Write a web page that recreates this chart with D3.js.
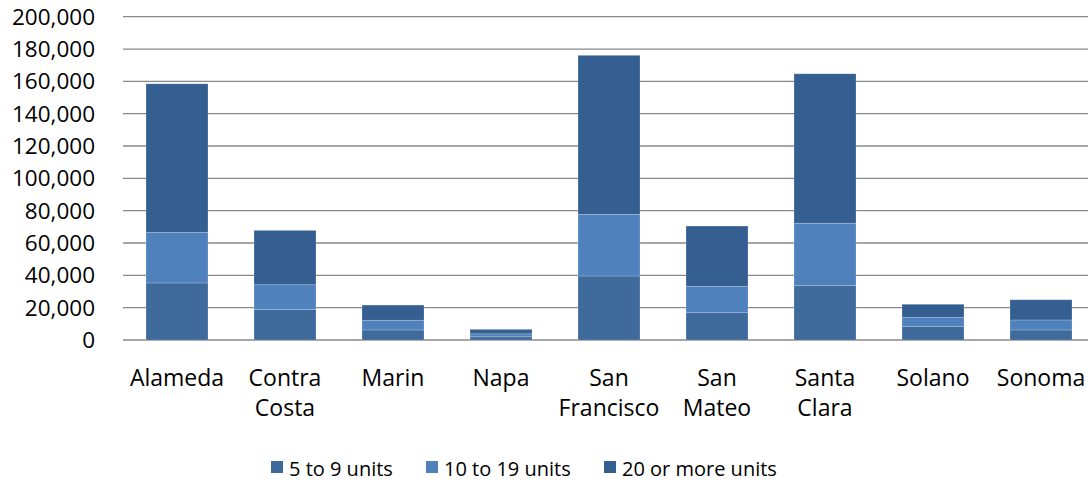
<!DOCTYPE html>
<html>
<head>
<meta charset="utf-8">
<script src="https://cdn.jsdelivr.net/npm/d3@7"></script>
<style>
  html, body { margin: 0; padding: 0; background: #fff; }
  svg { display: block; }
  text { font-family: "Open Sans", sans-serif; fill: #000; }
</style>
</head>
<body>
<svg id="chart" width="1088" height="482"></svg>
<script>
const categories = ["Alameda", "Contra Costa", "Marin", "Napa", "San Francisco", "San Mateo", "Santa Clara", "Solano", "Sonoma"];
const seriesNames = ["5 to 9 units", "10 to 19 units", "20 or more units"];
const units5to9   = [35300, 18800, 6200, 2000, 39600, 16900, 33600, 8500, 6200];
const units10to19 = [31300, 15400, 6000, 1800, 38100, 16300, 38600, 5500, 6200];
const units20plus = [91900, 33600, 9400, 2800, 98400, 37300, 92500, 8100, 12500];
const yTicks = [0, 20000, 40000, 60000, 80000, 100000, 120000, 140000, 160000, 180000, 200000];
const colors = ["#3F6A9C", "#4F81BD", "#355F91"];

const svg = d3.select("#chart");
const x = d3.scaleBand().domain(categories).range([123, 1095]).paddingInner(0.426).paddingOuter(0.213);
const y = d3.scaleLinear().domain([0, 200000]).range([340, 16.7]);

// gridlines
svg.append("g").selectAll("line").data(yTicks).join("line")
  .attr("x1", 123).attr("x2", 1095)
  .attr("y1", d => y(d)).attr("y2", d => y(d))
  .attr("stroke", "#888").attr("stroke-width", 1.3);

// y axis labels
const fmt = d3.format(",");
svg.append("g").selectAll("text").data(yTicks).join("text")
  .attr("x", 95).attr("y", d => y(d))
  .attr("dy", "0.36em")
  .attr("text-anchor", "end")
  .attr("font-size", 22.5)
  .text(d => fmt(d));

// stacked data
const rows = categories.map((c, i) => ({cat: c, s0: units5to9[i], s1: units10to19[i], s2: units20plus[i]}));
const stack = d3.stack().keys(["s0", "s1", "s2"])(rows);

svg.append("g").selectAll("g").data(stack).join("g")
  .attr("fill", (d, i) => colors[i])
  .selectAll("rect").data(d => d).join("rect")
  .attr("x", d => x(d.data.cat))
  .attr("width", x.bandwidth())
  .attr("y", d => y(d[1]))
  .attr("height", d => y(d[0]) - y(d[1]))
  .attr("stroke", "#ffffff").attr("stroke-opacity", 0.25).attr("stroke-width", 0.8);

// x labels
const labelLines = {
  "Alameda": ["Alameda"], "Contra Costa": ["Contra", "Costa"], "Marin": ["Marin"], "Napa": ["Napa"],
  "San Francisco": ["San", "Francisco"], "San Mateo": ["San", "Mateo"], "Santa Clara": ["Santa", "Clara"],
  "Solano": ["Solano"], "Sonoma": ["Sonoma"]
};
const xl = svg.append("g").selectAll("text").data(categories).join("text")
  .attr("text-anchor", "middle")
  .attr("font-size", 23);
xl.each(function(c) {
  const t = d3.select(this);
  labelLines[c].forEach((ln, k) => {
    t.append("tspan").attr("x", x(c) + x.bandwidth() / 2).attr("y", 386 + k * 30).text(ln);
  });
});

// legend
const legendX = [271, 426, 604];
const lg = svg.append("g").selectAll("g").data(seriesNames).join("g")
  .attr("transform", (d, i) => `translate(${legendX[i]},0)`);
lg.append("rect").attr("x", 0).attr("y", 461).attr("width", 12).attr("height", 12)
  .attr("fill", (d, i) => colors[i]);
lg.append("text").attr("x", 18).attr("y", 476).attr("font-size", 20).text(d => d);
</script>
</body>
</html>
